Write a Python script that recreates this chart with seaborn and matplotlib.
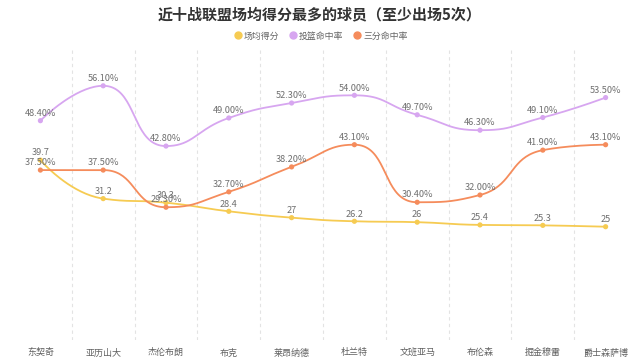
import numpy as np
import pandas as pd
import matplotlib
matplotlib.use("Agg")
import matplotlib.pyplot as plt
import seaborn as sns

# Data
players = ["东契奇", "亚历山大", "杰伦布朗", "布克", "莱昂纳德",
           "杜兰特", "文班亚马", "布伦森", "掘金穆雷", "爵士森萨博"]
points_avg = [39.7, 31.2, 30.3, 28.4, 27, 26.2, 26, 25.4, 25.3, 25]
fg_pct = [48.4, 56.1, 42.8, 49.0, 52.3, 54.0, 49.7, 46.3, 49.1, 53.5]
three_pct = [37.5, 37.5, 29.3, 32.7, 38.2, 43.1, 30.4, 32.0, 41.9, 43.1]

series_names = ["场均得分", "投篮命中率", "三分命中率"]
colors = ["#f6cb52", "#d7a6f0", "#f58c5c"]

sns.set_theme(style="white")
plt.rcParams['font.family'] = ['Noto Sans CJK SC', 'DejaVu Sans']

df = pd.DataFrame({"球员": players, "场均得分": points_avg,
                   "投篮命中率": fg_pct, "三分命中率": three_pct})
df["x"] = np.arange(len(players))
long = df.melt(id_vars=["球员", "x"], value_vars=series_names,
               var_name="series", value_name="value")

fig = plt.figure(figsize=(6.4, 3.62), dpi=100)
ax = fig.add_axes([9 / 640, 22 / 362, 628 / 640, 290 / 362])
ymax = 64
ax.set_xlim(-0.5, len(players) - 0.5)
ax.set_ylim(0, ymax)

# pixel scale used for smoothing distances
sx = 628 / len(players)
sy = 290 / ymax


def smooth_curve(xs, ys, smooth=0.5, n=40):
    # bezier smoothing with control points kept inside neighbour bounds
    pts = np.column_stack([np.asarray(xs, float) * sx,
                           np.asarray(ys, float) * sy])
    m = len(pts)
    cin = [p.copy() for p in pts]
    cout = [p.copy() for p in pts]
    for i in range(1, m - 1):
        p, prv, nxt = pts[i], pts[i - 1], pts[i + 1]
        v = nxt - prv
        lp = np.linalg.norm(p - prv)
        ln = np.linalg.norm(nxt - p)
        r = ln / (lp + ln)
        c1 = p + v * smooth * r
        c1 = np.minimum(c1, np.maximum(nxt, p))
        c1 = np.maximum(c1, np.minimum(nxt, p))
        c0 = p - (c1 - p) * lp / ln
        c0 = np.minimum(c0, np.maximum(prv, p))
        c0 = np.maximum(c0, np.minimum(prv, p))
        c1 = p + (p - c0) * ln / lp
        cin[i], cout[i] = c0, c1
    t = np.linspace(0, 1, n)[:, None]
    segs = []
    for i in range(m - 1):
        p0, p1, p2, p3 = pts[i], cout[i], cin[i + 1], pts[i + 1]
        segs.append(((1 - t) ** 3) * p0 + 3 * ((1 - t) ** 2) * t * p1
                    + 3 * (1 - t) * t ** 2 * p2 + t ** 3 * p3)
    curve = np.vstack(segs)
    return curve[:, 0] / sx, curve[:, 1] / sy


# vertical dashed separators
for b in np.arange(0.5, len(players) - 0.5, 1):
    ax.axvline(b, color="#e3e3e3", lw=0.8, ls=(0, (3, 3)), zorder=0)

for name, col in zip(series_names, colors):
    sub = long[long["series"] == name]
    cx, cy = smooth_curve(sub["x"], sub["value"])
    ax.plot(cx, cy, color=col, lw=1.3, zorder=2)

sns.scatterplot(data=long, x="x", y="value", hue="series",
                hue_order=series_names, palette=colors, s=14,
                edgecolor="none", ax=ax, zorder=3, legend=False)

for name in series_names:
    sub = long[long["series"] == name]
    for xv, yv in zip(sub["x"], sub["value"]):
        txt = f"{yv:g}" if name == "场均得分" else f"{yv:.2f}%"
        ax.annotate(txt, (xv, yv), xytext=(0, 2), textcoords="offset points",
                    ha="center", va="bottom", fontsize=6.6, color="#707070",
                    zorder=4)

ax.set_xticks(df["x"])
ax.set_xticklabels(players, fontsize=6.5, color="#606060")
ax.tick_params(axis="x", length=0, pad=6)
ax.set_yticks([])
ax.set_xlabel("")
ax.set_ylabel("")
for s in ax.spines.values():
    s.set_visible(False)

fig.text(0.5, 1 - 14 / 362, "近十战联盟场均得分最多的球员（至少出场5次）",
         ha="center", va="center", fontsize=10.8, fontweight="bold",
         color="#333333")

handles = [plt.Line2D([], [], marker="o", ls="", color=c, markersize=5)
           for c in colors]
fig.legend(handles, series_names, loc="center", ncol=3,
           bbox_to_anchor=(0.5, 1 - 36 / 362), frameon=False, fontsize=6.4,
           labelcolor="#666666", handletextpad=0.1, columnspacing=0.9,
           handlelength=1.2)

fig.savefig("out.png", dpi=100)
